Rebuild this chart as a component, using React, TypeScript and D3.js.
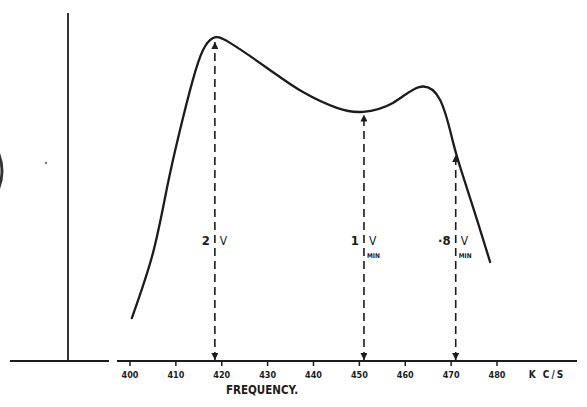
import { useEffect, useRef } from "react";
import * as d3 from "d3";

// frequency (kc/s) and relative response
const freqs = [400.4, 405.0, 408.1, 410.9, 413.7, 415.9, 418.1, 421.8, 430.5, 437.7, 445.1, 450.8, 457.3, 463.0, 467.6, 470.4, 472.6, 475.6, 478.5];
const response = [13.0, 32.7, 52.7, 70.0, 85.2, 94.2, 97.9, 96.4, 88.2, 81.5, 76.7, 75.5, 78.2, 83.0, 79.1, 66.4, 56.0, 43.0, 30.0];

const tickValues = [400, 410, 420, 430, 440, 450, 460, 470, 480];

// marked points: frequency, level on curve, voltage label, with MIN sub-label?
const markerFreqs = [418.5, 451, 471];
const markerLevels = [97.3, 75.3, 63.0];
const markerLabels = ["2", "1", "·8"];
const markerMin = [false, true, true];

const W = 587;
const H = 407;

export default function App() {
  const svgRef = useRef<SVGSVGElement>(null);

  useEffect(() => {
    const svg = d3.select(svgRef.current);
    svg.selectAll("*").remove();

    const baseY = 361;
    const x = d3.scaleLinear().domain([400, 480]).range([130, 497]);
    const y = d3.scaleLinear().domain([0, 100]).range([baseY, 31]);
    const ink = "#1c1c1c";
    const font = "'DejaVu Sans Condensed', 'DejaVu Sans', sans-serif";

    svg.append("rect").attr("width", W).attr("height", H).attr("fill", "#fff");

    // arrowhead markers
    const defs = svg.append("defs");
    defs.append("marker")
      .attr("id", "arr")
      .attr("viewBox", "0 0 10 10")
      .attr("refX", 10).attr("refY", 5)
      .attr("markerWidth", 8).attr("markerHeight", 7)
      .attr("markerUnits", "userSpaceOnUse")
      .attr("orient", "auto-start-reverse")
      .append("path")
      .attr("d", "M0,0 L10,5 L0,10 Z")
      .attr("fill", ink);

    // left vertical axis and baselines
    svg.append("line")
      .attr("x1", 68).attr("x2", 68).attr("y1", 13).attr("y2", baseY)
      .attr("stroke", ink).attr("stroke-width", 1.8);
    svg.append("line")
      .attr("x1", 10).attr("x2", 109).attr("y1", baseY).attr("y2", baseY)
      .attr("stroke", ink).attr("stroke-width", 2);
    svg.append("line")
      .attr("x1", 117).attr("x2", 577).attr("y1", baseY).attr("y2", baseY)
      .attr("stroke", ink).attr("stroke-width", 2);

    // cropped bracket at left edge and a stray dot
    svg.append("path")
      .attr("d", "M-2,152 Q6,171 -2,190")
      .attr("fill", "none").attr("stroke", "#333").attr("stroke-width", 3);
    svg.append("circle").attr("cx", 46).attr("cy", 163).attr("r", 1.2).attr("fill", "#777");

    // frequency ticks
    const ticks = svg.append("g");
    tickValues.forEach((t) => {
      ticks.append("line")
        .attr("x1", x(t)).attr("x2", x(t))
        .attr("y1", baseY).attr("y2", baseY + 5)
        .attr("stroke", ink).attr("stroke-width", 1.5);
      ticks.append("text")
        .attr("x", x(t)).attr("y", baseY + 17)
        .attr("text-anchor", "middle")
        .attr("font-family", font).attr("font-size", 9).attr("font-weight", "bold")
        .attr("fill", ink).text(t);
    });
    svg.append("text")
      .attr("x", 547).attr("y", baseY + 17)
      .attr("text-anchor", "middle")
      .attr("font-family", font).attr("font-size", 10).attr("font-weight", "bold")
      .attr("letter-spacing", 2)
      .attr("fill", ink).text("K C/S");
    svg.append("text")
      .attr("x", 262).attr("y", baseY + 33)
      .attr("text-anchor", "middle")
      .attr("font-family", font).attr("font-size", 11.5).attr("font-weight", "bold")
      .attr("fill", ink).text("FREQUENCY.");

    // dashed marker lines with arrows at both ends
    markerFreqs.forEach((f, i) => {
      const mx = x(f);
      svg.append("line")
        .attr("x1", mx).attr("x2", mx)
        .attr("y1", baseY - 1).attr("y2", y(markerLevels[i]) + 2)
        .attr("stroke", ink).attr("stroke-width", 1.6)
        .attr("stroke-dasharray", "8,5")
        .attr("marker-start", "url(#arr)")
        .attr("marker-end", "url(#arr)");
      const ly = 245;
      svg.append("text")
        .attr("x", mx - 5).attr("y", ly)
        .attr("text-anchor", "end")
        .attr("font-family", font).attr("font-size", 13).attr("font-weight", "bold")
        .attr("fill", ink).text(markerLabels[i]);
      svg.append("text")
        .attr("x", mx + 5).attr("y", ly)
        .attr("font-family", font).attr("font-size", 12)
        .attr("fill", ink).text("V");
      if (markerMin[i]) {
        svg.append("text")
          .attr("x", mx + 3).attr("y", ly + 13)
          .attr("font-family", font).attr("font-size", 6.5).attr("font-weight", "bold")
          .attr("fill", ink).text("MIN");
      }
    });

    // response curve
    const pts: [number, number][] = freqs.map((f, i) => [f, response[i]]);
    const line = d3.line<[number, number]>()
      .x((d) => x(d[0]))
      .y((d) => y(d[1]))
      .curve(d3.curveNatural);
    svg.append("path")
      .datum(pts)
      .attr("d", line)
      .attr("fill", "none")
      .attr("stroke", ink)
      .attr("stroke-width", 2.3)
      .attr("stroke-linecap", "round");
  }, []);

  return (
    <svg
      ref={svgRef}
      width={W}
      height={H}
      style={{ position: "absolute", left: 0, top: 0, display: "block" }}
    />
  );
}
